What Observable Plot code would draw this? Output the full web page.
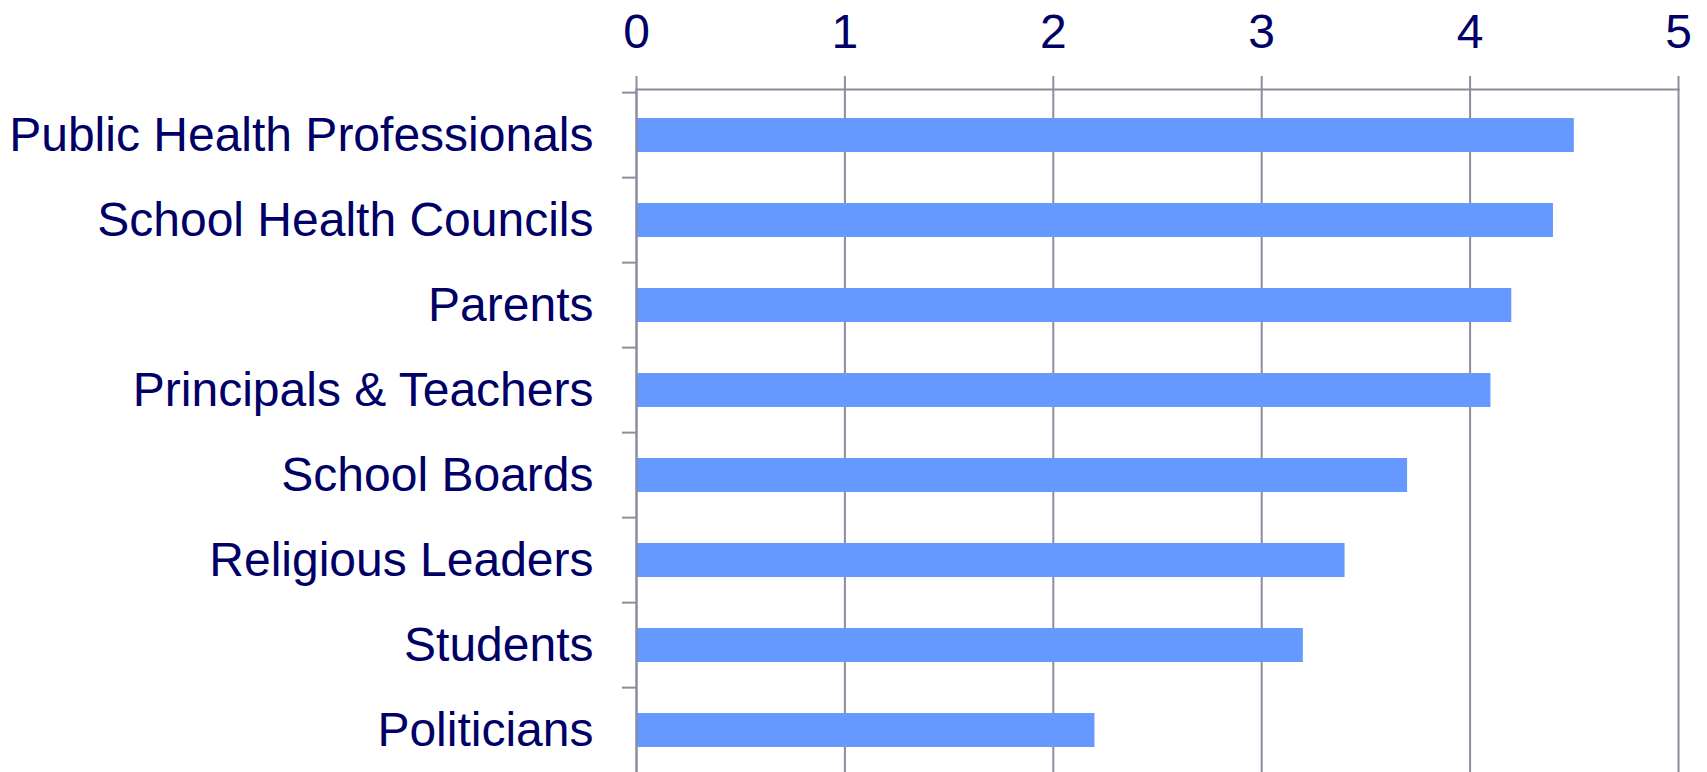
<!DOCTYPE html>
<html><head><meta charset="utf-8">
<script src="https://cdn.jsdelivr.net/npm/d3@7"></script>
<script src="https://cdn.jsdelivr.net/npm/@observablehq/plot@0.6"></script>
<style>html,body{margin:0;padding:0;background:#fff;overflow:hidden}</style>
</head><body><div id="chart"></div>
<script>
const categories = ["Public Health Professionals", "School Health Councils", "Parents", "Principals & Teachers", "School Boards", "Religious Leaders", "Students", "Politicians"];
const values = [4.5, 4.4, 4.2, 4.1, 3.7, 3.4, 3.2, 2.2];
const xTicks = [0, 1, 2, 3, 4, 5];

const data = categories.map((name, i) => ({name, value: values[i]}));
const W = 1707, H = 772, mt = 89, ml = 636, mr = 29, yBottom = 775;
const step = (yBottom - mt) / categories.length;
const grid = "#8c8c9e", ink = "#000066";

const chart = Plot.plot({
  width: W, height: H, marginTop: mt, marginLeft: ml, marginRight: mr, marginBottom: 0,
  style: {fontFamily: "'Liberation Sans', Arial, sans-serif", fontSize: "48px", color: ink, background: "#fff", overflow: "hidden"},
  x: {domain: [0, 5]},
  y: {domain: categories, range: [mt, yBottom], paddingInner: 0.6, paddingOuter: 0.3},
  marks: [
    Plot.gridX(xTicks, {stroke: grid, strokeOpacity: 1, strokeWidth: 2}),
    Plot.barX(data, {x: "value", y: "name", fill: "#6699ff"}),
    Plot.ruleX([0], {stroke: grid, strokeWidth: 2}),
    Plot.frame({anchor: "top", stroke: grid, strokeWidth: 2}),
    Plot.axisX(xTicks, {anchor: "top", tickSize: 14, tickPadding: 28, tickFormat: d => String(d), stroke: grid, strokeWidth: 2, fill: ink, fontSize: 48, label: null}),
    Plot.axisY({tickSize: 14, dy: -step / 2, tickFormat: () => "", stroke: grid, strokeWidth: 2, label: null}),
    Plot.axisY({tickSize: 0, tickPadding: 43, fill: ink, fontSize: 48, label: null})
  ]
});
document.getElementById("chart").appendChild(chart);
</script>
</body></html>
